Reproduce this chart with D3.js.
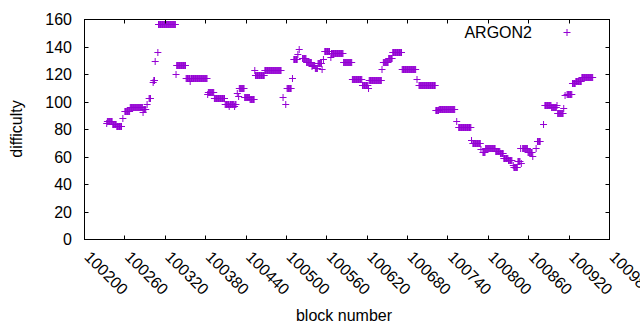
<!DOCTYPE html>
<html lang="en">
<head>
    <meta charset="utf-8">
    <title>ARGON2 difficulty</title>
    <style>
        body {
            margin: 0;
            background: #fff;
        }
        svg text {
            font-family: "Liberation Sans", Arial, sans-serif;
            font-size: 16px;
            fill: #000;
        }
    </style>
</head>
<body>
    <svg id="chart" width="640" height="330"></svg>

    <script src="https://d3js.org/d3.v7.min.js"></script>
    <script>
        // Runs of blocks sharing one difficulty value
        const runStart = [
            100233, 100234, 100242, 100248, 100257, 100260, 100268, 100287, 100288, 100293,
            100296, 100302, 100303, 100305, 100309, 100310, 100336, 100337, 100351, 100357,
            100358, 100383, 100384, 100393, 100409, 100415, 100416, 100423, 100424, 100427,
            100429, 100430, 100438, 100446, 100453, 100454, 100468, 100495, 100499, 100501,
            100509, 100511, 100517, 100519, 100524, 100530, 100538, 100539, 100543, 100547,
            100553, 100555, 100557, 100566, 100567, 100585, 100598, 100613, 100622, 100623,
            100642, 100644, 100652, 100658, 100672, 100694, 100697, 100722, 100723, 100727,
            100753, 100756, 100775, 100777, 100789, 100792, 100796, 100811, 100818, 100823,
            100830, 100837, 100838, 100844, 100848, 100849, 100851, 100859, 100866, 100871,
            100873, 100882, 100884, 100894, 100902, 100903, 100912, 100914, 100917, 100925,
            100930, 100939
        ];
        const runEnd = [
            100233, 100241, 100247, 100255, 100257, 100267, 100286, 100287, 100291, 100293,
            100298, 100302, 100304, 100305, 100309, 100335, 100336, 100350, 100356, 100357,
            100382, 100383, 100392, 100408, 100414, 100415, 100422, 100423, 100425, 100427,
            100429, 100437, 100445, 100452, 100453, 100467, 100492, 100495, 100499, 100507,
            100509, 100516, 100517, 100519, 100529, 100537, 100538, 100542, 100546, 100552,
            100553, 100555, 100564, 100566, 100584, 100597, 100612, 100621, 100622, 100641,
            100642, 100651, 100657, 100671, 100692, 100694, 100721, 100722, 100726, 100750,
            100753, 100774, 100775, 100788, 100789, 100795, 100810, 100817, 100822, 100829,
            100835, 100837, 100843, 100847, 100848, 100849, 100858, 100865, 100866, 100871,
            100877, 100882, 100893, 100901, 100902, 100911, 100912, 100914, 100924, 100929,
            100938, 100955
        ];
        const runDifficulty = [
            85, 86, 84, 82.5, 88.5, 93.5, 96.5, 92.5, 95, 98.5,
            103, 114.5, 116, 130, 136.5, 157, 120.5, 127, 117.5, 115,
            117.5, 106, 107.5, 103, 98.5, 97, 98.5, 97, 98.5, 106.5,
            104, 110.5, 103.5, 102, 123, 119.5, 123.5, 103.5, 98.5, 110.5,
            117.5, 131.5, 135, 138.5, 132, 129, 126.5, 127, 124.5, 128.5,
            124, 131.5, 137, 132.5, 135.5, 129, 117, 112.5, 110, 116,
            124, 129, 132, 136.5, 124, 117, 112.5, 94, 94.5, 95,
            86.5, 82, 72.5, 70.5, 66, 64, 66.5, 64.5, 63, 59.5,
            57.5, 54.5, 53, 57, 66.5, 56, 66.5, 63.5, 61, 66.5,
            72, 84, 97.5, 96.5, 97.5, 92, 96, 105, 105.5, 113.5,
            115, 118
        ];

        const xTicks = [100200, 100260, 100320, 100380, 100440, 100500, 100560,
                        100620, 100680, 100740, 100800, 100860, 100920, 100980];
        const yTicks = [0, 20, 40, 60, 80, 100, 120, 140, 160];

        const color = "#9400d3";

        // one point per block
        const points = [];
        runStart.forEach((s, i) => {
            for (let b = s; b <= runEnd[i]; b++) {
                points.push({ block: b, difficulty: runDifficulty[i] });
            }
        });

        const svg = d3.select("#chart");
        const plotLeft = 84.5, plotRight = 609.5, plotTop = 19.5, plotBottom = 239.5;
        const tickLen = 4;

        const x = d3.scaleLinear().domain([100200, 100980]).range([plotLeft, plotRight]);
        const y = d3.scaleLinear().domain([0, 160]).range([plotBottom, plotTop]);

        const plus = "M-3.5,0H3.5M0,-3.5V3.5";

        // data points
        svg.append("g")
            .selectAll("path")
            .data(points)
            .join("path")
            .attr("d", plus)
            .attr("transform", d => `translate(${x(d.block)},${Math.round(y(d.difficulty)) + 0.5})`)
            .attr("fill", "none")
            .attr("stroke", color)
            .attr("stroke-width", 1);

        // ticks (inward, mirrored on all sides)
        const ticks = svg.append("g").attr("stroke", "#000").attr("stroke-width", 1);
        xTicks.forEach(t => {
            const xx = Math.round(x(t) - 0.5) + 0.5;
            ticks.append("line").attr("x1", xx).attr("x2", xx).attr("y1", plotBottom).attr("y2", plotBottom - tickLen);
            ticks.append("line").attr("x1", xx).attr("x2", xx).attr("y1", plotTop).attr("y2", plotTop + tickLen);
        });
        yTicks.forEach(t => {
            const yy = Math.round(y(t) - 0.5) + 0.5;
            ticks.append("line").attr("x1", plotLeft).attr("x2", plotLeft + tickLen).attr("y1", yy).attr("y2", yy);
            ticks.append("line").attr("x1", plotRight).attr("x2", plotRight - tickLen).attr("y1", yy).attr("y2", yy);
        });

        // border
        svg.append("rect")
            .attr("x", plotLeft).attr("y", plotTop)
            .attr("width", plotRight - plotLeft).attr("height", plotBottom - plotTop)
            .attr("fill", "none")
            .attr("stroke", "#000")
            .attr("stroke-width", 1);

        // y tick labels
        svg.append("g")
            .selectAll("text")
            .data(yTicks)
            .join("text")
            .attr("x", 72)
            .attr("y", d => y(d))
            .attr("dy", "0.35em")
            .attr("text-anchor", "end")
            .text(d => d);

        // x tick labels, rotated
        svg.append("g")
            .selectAll("text")
            .data(xTicks)
            .join("text")
            .attr("transform", d => `translate(${x(d) - 1},258) rotate(45)`)
            .attr("text-anchor", "start")
            .text(d => d);

        // axis titles
        svg.append("text")
            .attr("transform", "translate(22,129) rotate(-90)")
            .attr("text-anchor", "middle")
            .text("difficulty");

        svg.append("text")
            .attr("x", 344)
            .attr("y", 321)
            .attr("text-anchor", "middle")
            .text("block number");

        // legend
        svg.append("text")
            .attr("x", 532)
            .attr("y", 37.5)
            .attr("text-anchor", "end")
            .text("ARGON2");
        svg.append("path")
            .attr("d", plus)
            .attr("transform", "translate(567,32.5)")
            .attr("fill", "none")
            .attr("stroke", color);
    </script>
</body>
</html>
